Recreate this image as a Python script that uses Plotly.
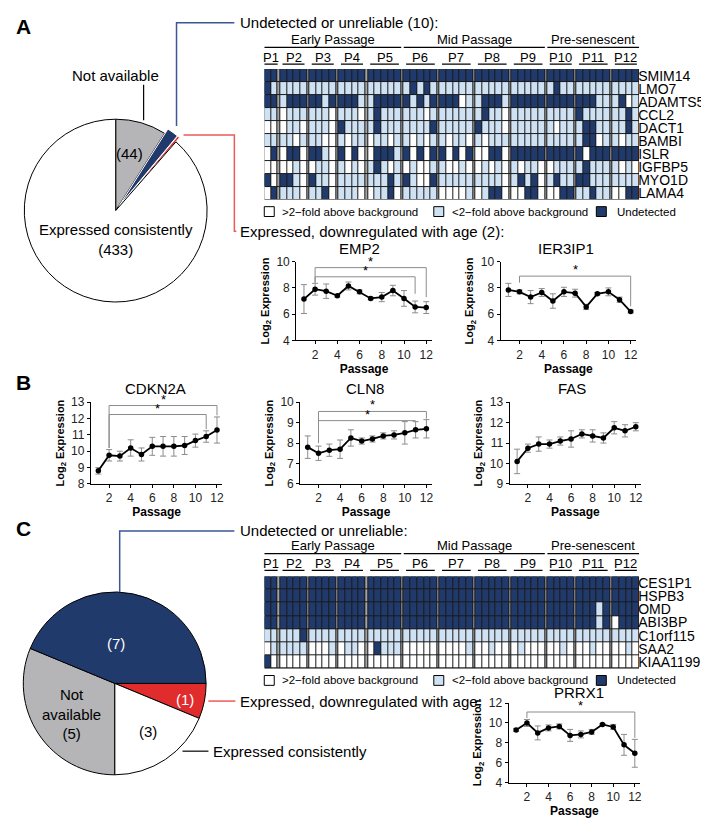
import plotly.graph_objects as go

# Figure: pies + detection heatmaps + expression-vs-passage line charts
W, H = 709, 820
FONT = "Arial, Liberation Sans, sans-serif"
DARK = "#213a6c"
LIGHT = "#cfe2f3"
GRAY = "#b5b5b7"
RED = "#e12c2e"
BLUE_LINE = "#3b5796"
RED_LINE = "#ee5a5a"
BAR = "#8c8c8c"

# ---- data -------------------------------------------------------------
pie_a_labels = ["Not available", "Undetected or unreliable",
                "Expressed, downregulated with age", "Expressed consistently"]
pie_a_values = [44, 10, 2, 433]

pie_c_labels = ["Expressed, downregulated with age", "Expressed consistently",
                "Not available", "Undetected or unreliable"]
pie_c_values = [1, 3, 5, 7]

passages = ["P1", "P2", "P3", "P4", "P5", "P6", "P7", "P8", "P9", "P10", "P11", "P12"]
cols_per_passage = [2, 4, 4, 4, 5, 5, 5, 5, 5, 4, 5, 4]
stages = ["Early Passage", "Mid Passage", "Pre-senescent"]
stage_first = [0, 5, 9]
stage_last = [4, 8, 11]

# 0 = >2-fold above background, 1 = <2-fold above background, 2 = undetected
genes_a = ["SMIM14", "LMO7", "ADAMTS5", "CCL2", "DACT1",
           "BAMBI", "ISLR", "IGFBP5", "MYO1D", "LAMA4"]
calls_a = [
    "22 2222 2222 2222 22222 22222 22222 22222 22222 2222 22222 2222",
    "21 1111 1111 1111 11111 12121 11111 11111 11111 1211 11111 1111",
    "22 1222 2212 2221 12222 21212 22201 12221 22222 2222 22211 1201",
    "11 0111 1110 1110 12111 11101 11111 12110 11111 1111 21111 1121",
    "00 0110 1110 2111 12111 11112 11111 21110 11111 1011 12211 1121",
    "11 1101 1100 1011 01101 10101 10110 10111 11111 1111 12201 1011",
    "02 0220 2210 2020 02221 20202 20202 00220 22222 2222 20222 2222",
    "00 0010 0110 1010 12101 01001 10010 01010 10110 0111 12111 1010",
    "20 2210 2110 1111 11121 21002 11111 11110 12120 1211 22111 1111",
    "02 1110 1120 1110 01120 11111 00001 01220 00220 0022 11211 0022",
]

genes_c = ["CES1P1", "HSPB3", "OMD", "ABI3BP", "C1orf115", "SAA2", "KIAA1199"]
calls_c = [
    "22 2222 2222 2222 22222 22222 22222 22222 22222 2222 22222 2222",
    "22 2222 2222 2222 22222 22222 22222 22222 22222 2222 22222 2222",
    "22 2222 2222 2222 22222 22222 22222 22222 22222 2222 22212 2222",
    "22 2222 2222 2222 22222 22222 22222 22222 22222 2222 22212 0222",
    "11 1112 1111 1111 11111 11111 11111 11111 11111 1111 11111 1111",
    "01 1111 0001 0110 02111 00000 00001 00100 01000 0010 00100 0010",
    "20 0000 0000 0000 00000 00000 00000 00000 00000 0000 00000 0000",
]

passage_x = [1, 2, 3, 4, 5, 6, 7, 8, 9, 10, 11, 12]

emp2 = [7.15, 7.9, 7.75, 7.4, 8.15, 7.7, 7.2, 7.3, 7.8, 7.2, 6.55, 6.5]
emp2_err = [1.1, 0.45, 0.55, 0.1, 0.3, 0.15, 0.1, 0.35, 0.4, 0.6, 0.45, 0.45]
ier3ip1 = [7.85, 7.7, 7.3, 7.65, 7.0, 7.7, 7.6, 6.55, 7.55, 7.7, 7.1, 6.2]
ier3ip1_err = [0.5, 0.15, 0.5, 0.3, 0.55, 0.35, 0.3, 0.2, 0.1, 0.3, 0.2, 0.1]
cdkn2a = [8.8, 9.75, 9.7, 10.2, 9.8, 10.3, 10.3, 10.3, 10.35, 10.65, 10.9, 11.3]
cdkn2a_err = [0.2, 0.35, 0.3, 0.5, 0.4, 0.55, 0.6, 0.6, 0.55, 0.4, 0.35, 0.8]
cln8 = [7.8, 7.5, 7.65, 7.7, 8.25, 8.1, 8.2, 8.35, 8.4, 8.5, 8.65, 8.7]
cln8_err = [0.55, 0.35, 0.3, 0.45, 0.4, 0.15, 0.15, 0.15, 0.2, 0.55, 0.4, 0.45]
fas = [10.1, 10.75, 10.95, 10.95, 11.1, 11.2, 11.45, 11.35, 11.25, 11.75, 11.6, 11.8]
fas_err = [0.6, 0.2, 0.35, 0.2, 0.2, 0.4, 0.2, 0.3, 0.25, 0.3, 0.3, 0.2]
prrx1 = [9.3, 10.0, 9.0, 9.5, 9.65, 8.75, 8.85, 9.1, 9.85, 9.6, 7.8, 6.95]
prrx1_err = [0.15, 0.35, 0.7, 0.3, 0.25, 0.6, 0.35, 0.25, 0.1, 0.25, 1.05, 1.4]

# significance brackets: (from passage, to passage, bar level, left end, right end)
emp2_sig = [(2, 11, 8.85, 8.4, 7.55), (2, 12, 9.55, 8.4, 7.3)]
ier3ip1_sig = [(2, 12, 8.9, 8.4, 6.6)]
cdkn2a_sig = [(2, 11, 12.25, 10.2, 11.35), (2, 12, 12.8, 10.2, 12.2)]
cln8_sig = [(2, 11, 9.1, 8.0, 9.1), (2, 12, 9.55, 8.0, 9.2)]
prrx1_sig = [(2, 12, 11.1, 10.5, 8.5)]


# ---- helpers ----------------------------------------------------------
def fx(x):
    return x / W


def fy(y):
    return 1 - y / H


fig = go.Figure()
shapes = []
notes = []


def text(x, y, s, size=15, color="black", anchor="left", bold=False):
    if bold:
        s = f"<b>{s}</b>"
    notes.append(dict(x=fx(x), y=fy(y), xref="paper", yref="paper", text=s,
                      showarrow=False, xanchor=anchor, yanchor="middle",
                      font=dict(size=size, color=color, family=FONT)))


def path(points, color, width=1.5):
    d = "M " + " L ".join(f"{fx(x)},{fy(y)}" for x, y in points)
    shapes.append(dict(type="path", path=d, xref="paper", yref="paper",
                       line=dict(color=color, width=width)))


# column edges for the heatmaps, with a thin spacer column between passages
GAP = 0.38
edges = [0.0]
block_start, block_end = [], []
for i, n in enumerate(cols_per_passage):
    block_start.append(edges[-1])
    for _ in range(n):
        edges.append(edges[-1] + 1)
    block_end.append(edges[-1])
    if i < len(cols_per_passage) - 1:
        edges.append(edges[-1] + GAP)
total_w = edges[-1]


def heat_z(calls):
    z = []
    for row in calls:
        blocks = row.split()
        zr = []
        for i, b in enumerate(blocks):
            zr += [int(c) for c in b]
            if i < len(blocks) - 1:
                zr.append(3)
        z.append(zr)
    return z


scale = [[0, "white"], [0.25, "white"], [0.25, LIGHT], [0.5, LIGHT],
         [0.5, DARK], [0.75, DARK], [0.75, "#a3a3a3"], [1, "#a3a3a3"]]


def heatmap(genes, calls, ax, top, bottom, head_y):
    xa, ya = ("xaxis", "yaxis") if ax == "" else ("xaxis" + ax, "yaxis" + ax)
    fig.add_trace(go.Heatmap(z=heat_z(calls), x=edges, y=list(range(len(genes))),
                             colorscale=scale, zmin=-0.5, zmax=3.5, showscale=False,
                             xgap=1, ygap=1, hoverinfo="skip",
                             xaxis="x" + ax, yaxis="y" + ax))
    fig.layout[xa] = dict(domain=[fx(257), fx(633)], range=[0, total_w],
                          visible=False, anchor="y" + ax)
    fig.layout[ya] = dict(domain=[fy(bottom), fy(top)],
                          range=[len(genes) - 0.5, -0.5], side="right",
                          tickvals=list(range(len(genes))), ticktext=genes,
                          ticks="", ticklabelstandoff=-2,
                          showgrid=False, zeroline=False, showline=False,
                          tickfont=dict(size=14, family=FONT, color="black"),
                          anchor="x" + ax)
    shapes.append(dict(type="rect", xref="x" + ax, yref="y" + ax, x0=0, x1=total_w,
                       y0=-0.5, y1=len(genes) - 0.5, fillcolor="#1a1a1a",
                       line=dict(width=0), layer="below"))
    # stage headers and passage labels
    for name, a, b in zip(stages, stage_first, stage_last):
        x0, x1 = block_start[a], block_end[b]
        notes.append(dict(x=(x0 + x1) / 2, y=fy(head_y), xref="x" + ax, yref="paper",
                          text=name, showarrow=False, yanchor="middle",
                          font=dict(size=13, family=FONT, color="black")))
        shapes.append(dict(type="line", xref="x" + ax, yref="paper", x0=x0, x1=x1,
                           y0=fy(head_y + 8), y1=fy(head_y + 8),
                           line=dict(color="black", width=1.2)))
    for i, p in enumerate(passages):
        x0, x1 = block_start[i], block_end[i]
        inset = 0 if cols_per_passage[i] <= 2 else 0.35
        notes.append(dict(x=(x0 + x1) / 2, y=fy(head_y + 18), xref="x" + ax,
                          yref="paper", text=p, showarrow=False, yanchor="middle",
                          font=dict(size=13, family=FONT, color="black")))
        shapes.append(dict(type="line", xref="x" + ax, yref="paper",
                           x0=x0 + inset, x1=x1 - inset,
                           y0=fy(head_y + 25), y1=fy(head_y + 25),
                           line=dict(color="black", width=1.2)))


def heat_legend(y):
    items = [(257, 273, "white", ">2\u2212fold above background"),
             (427, 443, LIGHT, "<2\u2212fold above background"),
             (590, 609, DARK, "Undetected")]
    for bx, tx, col, lab in items:
        shapes.append(dict(type="rect", xref="paper", yref="paper",
                           x0=fx(bx), x1=fx(bx + 10), y0=fy(y + 5), y1=fy(y - 5),
                           fillcolor=col, line=dict(color="black", width=1)))
        text(tx, y, lab, size=11.5)


def line_panel(name, vals, errs, sig, ax, xdom, ydom, yrange, ytick, title_xy):
    fig.add_trace(go.Scatter(x=passage_x, y=vals, mode="lines+markers",
                             line=dict(color="black", width=1.8),
                             marker=dict(color="black", size=5.5),
                             error_y=dict(type="data", array=errs, color=BAR,
                                          thickness=1, width=3),
                             cliponaxis=False, hoverinfo="skip",
                             xaxis="x" + ax, yaxis="y" + ax))
    axis_style = dict(showline=True, linecolor="black", linewidth=1, ticks="outside",
                      ticklen=3, tickcolor="black", showgrid=False, zeroline=False,
                      tickfont=dict(size=12, family=FONT, color="#222"))
    fig.layout["xaxis" + ax] = dict(domain=[fx(xdom[0]), fx(xdom[1])],
                                    range=[0.3, 12.5], tickvals=[2, 4, 6, 8, 10, 12],
                                    anchor="y" + ax,
                                    title=dict(text="<b>Passage</b>", standoff=0,
                                               font=dict(size=12, family=FONT)),
                                    **axis_style)
    fig.layout["yaxis" + ax] = dict(domain=[fy(ydom[1]), fy(ydom[0])], range=yrange,
                                    tickvals=ytick, anchor="x" + ax,
                                    title=dict(text="<b>Log<sub>2</sub> Expression</b>",
                                               standoff=4,
                                               font=dict(size=11, family=FONT)),
                                    **axis_style)
    for a, b, lvl, left, right in sig:
        shapes.append(dict(type="path", xref="x" + ax, yref="y" + ax,
                           path=f"M {a},{left} L {a},{lvl} L {b},{lvl} L {b},{right}",
                           line=dict(color=BAR, width=1)))
        notes.append(dict(x=(a + b) / 2, y=lvl, xref="x" + ax, yref="y" + ax, text="*",
                          showarrow=False, yanchor="bottom", yshift=-3,
                          font=dict(size=13, family=FONT, color="black")))
    text(title_xy[0], title_xy[1], name, size=15, anchor="center")


# ---- panel A ----------------------------------------------------------
r_a, pull = 93, 0.06
half = r_a * (1 + pull)
fig.add_trace(go.Pie(labels=pie_a_labels, values=pie_a_values, sort=False,
                     direction="clockwise", rotation=0, textinfo="none",
                     pull=[0, pull, pull, 0], hoverinfo="skip",
                     marker=dict(colors=[GRAY, DARK, RED, "white"],
                                 line=dict(color=["black", "white", "white", "black"],
                                           width=1)),
                     domain=dict(x=[fx(108 - half), fx(108 + half)],
                                 y=[fy(199 + half), fy(199 - half)])))
text(6, 12, "A", size=21, bold=True)
text(108, 62, "Not available", anchor="center")
path([(136, 71), (136, 107)], "black", 1.2)
text(122, 141, "(44)", anchor="center")
text(108, 228, "Expressed consistently<br>(433)", anchor="center")
path([(169, 113), (169, 8), (227, 8)], BLUE_LINE)
text(231, 8, "Undetected or unreliable (10):")
path([(176, 122), (227, 122), (227, 220), (229, 220)], RED_LINE)
text(231, 220, "Expressed, downregulated with age (2):")

heatmap(genes_a, calls_a, "", 55, 188, 25)
heat_legend(200)

line_panel("EMP2", emp2, emp2_err, emp2_sig, "3", (289, 425), (251, 331),
           [4, 10], [4, 6, 8, 10], (352, 238))
line_panel("IER3IP1", ier3ip1, ier3ip1_err, ier3ip1_sig, "4", (494, 630), (251, 331),
           [4, 10], [4, 6, 8, 10], (560, 238))

# ---- panel B ----------------------------------------------------------
text(6, 374, "B", size=21, bold=True)
line_panel("CDKN2A", cdkn2a, cdkn2a_err, cdkn2a_sig, "5", (83, 215), (394, 477),
           [8, 13], [8, 9, 10, 11, 12, 13], (148, 380))
line_panel("CLN8", cln8, cln8_err, cln8_sig, "6", (293, 425), (394, 477),
           [6, 10], [6, 7, 8, 9, 10], (358, 380))
line_panel("FAS", fas, fas_err, [], "7", (503, 635), (394, 477),
           [9, 13], [9, 10, 11, 12, 13], (566, 380))

# ---- panel C ----------------------------------------------------------
fig.add_trace(go.Pie(labels=pie_c_labels, values=pie_c_values, sort=False,
                     direction="clockwise", rotation=90, textinfo="none",
                     hoverinfo="skip",
                     marker=dict(colors=[RED, "white", GRAY, DARK],
                                 line=dict(color="black", width=1)),
                     domain=dict(x=[fx(107 - 93), fx(107 + 93)],
                                 y=[fy(680 + 93), fy(680 - 93)])))
text(6, 522, "C", size=21, bold=True)
text(108, 639, "(7)", color="white", anchor="center")
text(177, 696, "(1)", color="white", anchor="center")
text(140, 729, "(3)", anchor="center")
text(64, 711, "Not<br>available<br>(5)", anchor="center")
path([(112, 587), (112, 525), (227, 525)], BLUE_LINE)
text(231, 524, "Undetected or unreliable:")
path([(201, 698), (228, 698)], RED_LINE)
text(231, 698, "Expressed, downregulated with age:")
path([(175, 749), (201, 749)], "#333")
text(204, 749, "Expressed consistently")

heatmap(genes_c, calls_c, "2", 571, 665, 540)
heat_legend(677)

line_panel("PRRX1", prrx1, prrx1_err, prrx1_sig, "8", (502, 634), (700, 781),
           [4, 12], [4, 6, 8, 10, 12], (573, 689))

fig.update_layout(width=W, height=H, autosize=False,
                  margin=dict(l=0, r=0, t=0, b=0),
                  paper_bgcolor="white", plot_bgcolor="white",
                  showlegend=False, shapes=shapes, annotations=notes,
                  font=dict(family=FONT, color="black"))

fig.write_html("out.html")
